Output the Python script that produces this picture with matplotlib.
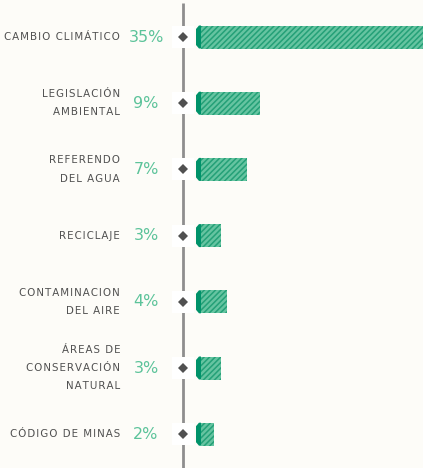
import matplotlib
matplotlib.use('Agg')
import matplotlib.pyplot as plt
from matplotlib.patches import Polygon

plt.rcParams['font.family'] = ['DejaVu Sans']
plt.rcParams['hatch.linewidth'] = 1.1

# datos
temas = ['CAMBIO CLIMÁTICO', 'LEGISLACIÓN\nAMBIENTAL', 'REFERENDO\nDEL AGUA',
         'RECICLAJE', 'CONTAMINACION\nDEL AIRE', 'ÁREAS DE\nCONSERVACIÓN\nNATURAL',
         'CÓDIGO DE MINAS']
porcentajes = [35, 9, 7, 3, 4, 3, 2]

BG = '#fdfcf8'
VERDE_OSC = '#00926a'
VERDE_RAYA = '#24a077'
VERDE_FONDO = '#66c4a1'
VERDE_TXT = '#5cc39a'
GRIS = '#505050'

W, H = 423, 468
X0 = 201.0      # px donde empieza la barra
PX_PCT = 6.6    # px por punto porcentual
Y0 = 37.0       # centro de la primera fila (px desde arriba)
DY = 66.2       # separacion entre filas


def px(x):
    return (x - X0) / PX_PCT


def espaciar(s):
    # espaciado entre letras con hair space
    return '\n'.join('\u200a'.join(linea) for linea in s.split('\n'))


fig = plt.figure(figsize=(W / 100, H / 100), dpi=100)
fig.patch.set_facecolor(BG)
ax = fig.add_axes([0, 0, 1, 1])
ax.set_facecolor(BG)
ax.set_xlim(px(0), px(W))
ax.set_ylim((H - Y0) / DY, -Y0 / DY)
ax.axis('off')

alto = 23 / DY
cap = 5 / PX_PCT
ch = 3.5 / DY

# linea vertical
ax.plot([px(183), px(183)], [(3 - Y0) / DY, (H - Y0) / DY], color='#8e8e8e',
        lw=2.0, solid_capstyle='butt', zorder=1)

for i, (t, v) in enumerate(zip(temas, porcentajes)):
    ax.barh(i, v, height=alto, left=0, color=VERDE_FONDO, edgecolor=VERDE_RAYA,
            hatch='//////', lw=0, zorder=2)
    y1, y2 = i - alto / 2, i + alto / 2
    ax.add_patch(Polygon([(0, y1), (-cap + 0.45, y1), (-cap, y1 + ch),
                          (-cap, y2 - ch), (-cap + 0.45, y2), (0, y2)],
                         closed=True, color=VERDE_OSC, lw=0, zorder=3))
    ax.plot(px(183), i, marker='s', ms=16, color='white', mew=0, zorder=4)
    ax.plot(px(183), i, marker='D', ms=5.2, color=GRIS, mew=0, zorder=5)
    ax.text(px(146), i, '%d%%' % v, ha='center', va='center', fontsize=11.5,
            color=VERDE_TXT, zorder=5)
    ax.text(px(120), i, espaciar(t), ha='right', va='center', fontsize=7.4,
            color=GRIS, linespacing=2.05, zorder=5)

fig.savefig('out.png', dpi=100, facecolor=BG)
